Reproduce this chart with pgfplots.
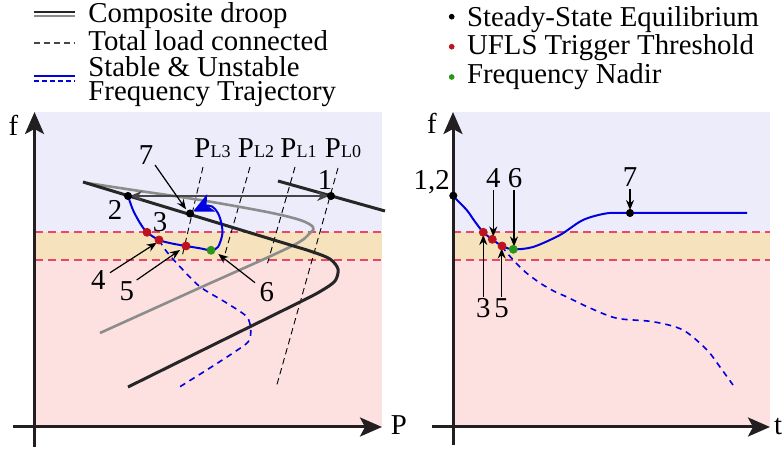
\documentclass[border=0pt]{standalone}
\usepackage{pgfplots}
\pgfplotsset{compat=1.18}
\usepackage{fontspec}
\setmainfont{Liberation Serif}
\usetikzlibrary{arrows.meta}

\definecolor{bgblue}{RGB}{236,236,251}
\definecolor{bgyellow}{RGB}{247,226,190}
\definecolor{bgpink}{RGB}{253,225,225}
\definecolor{bandred}{RGB}{234,70,108}
\definecolor{ptred}{RGB}{190,18,30}
\definecolor{ptgreen}{RGB}{45,150,25}
\definecolor{droopgray}{RGB}{140,140,140}
\definecolor{arrgray}{RGB}{70,70,70}
\definecolor{trajblue}{RGB}{0,0,225}
\definecolor{axcol}{RGB}{35,31,32}

\tikzset{
  axarrow/.style={axcol, line width=1.5pt, -{Stealth[length=11pt,width=9.5pt,inset=2.5pt]}},
  callout/.style={black, line width=0.6pt, -{Stealth[length=5pt,width=4pt]}},
  loadline/.style={black, line width=0.45pt, dash pattern=on 3.2pt off 2pt},
  band/.style={bandred, line width=0.8pt, dash pattern=on 4pt off 2.5pt},
  eqpt/.style={only marks, mark=*, mark size=1.8pt, black},
  uflspt/.style={only marks, mark=*, mark size=2pt, ptred},
  nadirpt/.style={only marks, mark=*, mark size=2pt, ptgreen},
  pl/.style={inner sep=0pt},
}
\newcommand{\PL}[1]{P{\fontsize{9}{9}\selectfont L#1}}

\begin{document}
\begin{tikzpicture}[font=\fontsize{14.4}{17}\selectfont]
\begin{axis}[
  at={(0,0)}, anchor=south west,
  width=392pt, height=224.5pt, scale only axis,
  xmin=0, xmax=784, ymin=0, ymax=449, y dir=reverse,
  hide axis, clip=false,
]
% ---------- shaded frequency regions: P-f plane ----------
\addplot[fill=bgblue, draw=none] coordinates {(35,112)(382,112)(382,232)(35,232)} -- cycle;
\addplot[fill=bgyellow, draw=none] coordinates {(35,232)(382,232)(382,260)(35,260)} -- cycle;
\addplot[fill=bgpink, draw=none] coordinates {(35,260)(382,260)(382,427)(35,427)} -- cycle;
% ---------- shaded frequency regions: time domain ----------
\addplot[fill=bgblue, draw=none] coordinates {(453,112)(770,112)(770,232)(453,232)} -- cycle;
\addplot[fill=bgyellow, draw=none] coordinates {(453,232)(770,232)(770,260)(453,260)} -- cycle;
\addplot[fill=bgpink, draw=none] coordinates {(453,260)(770,260)(770,427)(453,427)} -- cycle;

% UFLS band limits
\addplot[band] coordinates {(35,232)(382,232)};
\addplot[band] coordinates {(35,260)(382,260)};
\addplot[band] coordinates {(453,232)(770,232)};
\addplot[band] coordinates {(453,260)(770,260)};

% ---------- total load connected ----------
\addplot[loadline] coordinates {(203,167)(182,257)};
\addplot[loadline] coordinates {(250,167)(225,254)};
\addplot[loadline] coordinates {(295,167)(267,265)};
\addplot[loadline] coordinates {(338,168)(276,388)};
\node[pl] at (axis cs:212.5,148) {\PL{3}};
\node[pl] at (axis cs:256,148) {\PL{2}};
\node[pl] at (axis cs:298.5,148) {\PL{1}};
\node[pl] at (axis cs:343,148) {\PL{0}};

% ---------- composite droop curves ----------
\addplot[droopgray, line width=1.3pt, smooth, tension=0.55] coordinates {
  (87,183)(133,190)(200,200)(267,212)(300,220)(313,227)(310,233)(290,247)(195,290)(100,333)};
\addplot[black!85, line width=1.5pt, smooth, tension=0.5] coordinates {
  (83,182)(190,214.5)(290,244.9)(313,252)(330,259)(338,269)(335,281)(321,291)(300,302)(214,344.5)(128,387)};
\addplot[black!85, line width=1.5pt] coordinates {(278,181)(385,211)};

% two-headed shift between equilibria 1 and 2
\addplot[arrgray, line width=1pt, {Stealth[length=6pt,width=5pt]}-{Stealth[length=6pt,width=5pt]}]
  coordinates {(130,196)(329,196)};

% ---------- frequency trajectories in the P-f plane ----------
\addplot[trajblue, line width=0.8pt, dash pattern=on 3pt off 2.5pt, smooth, tension=0.5] coordinates {
  (159,240)(166.7,251.7)(180,266.7)(200,286.7)(226.7,303)(246.7,316.7)(250.7,330)(248.3,341.7)(233,353)(206.7,370)(180,386.7)};
\addplot[trajblue, line width=1pt, smooth, tension=0.5, -{Stealth[length=10pt,width=9.5pt,inset=2.5pt]}] coordinates {
  (128,196)(133,210)(140,223)(147,232.3)(159,240)(172,243.5)(186,246)(200,248.3)(211,250.3)(218,247)(222.5,233)(220,218)(215,209)(208,205.5)(193,211.5)};

% operating points
\addplot[eqpt] coordinates {(128,196)(331,196)(190,213.5)};
\addplot[uflspt] coordinates {(147,232.3)(159,240)(186,246)};
\addplot[nadirpt] coordinates {(211,250.3)};

% callouts
\node at (axis cs:325,180) {1};
\node at (axis cs:115,210) {2};
\node at (axis cs:160,221.7) {3};
\node at (axis cs:146,155) {7};
\node at (axis cs:98.3,280) {4};
\node at (axis cs:126.7,291.7) {5};
\node at (axis cs:266.7,291.7) {6};
\addplot[callout] coordinates {(155,165)(186,209.3)};
\addplot[callout] coordinates {(110,272.7)(156.7,242.7)};
\addplot[callout] coordinates {(136.7,280)(180,250)};
\addplot[callout] coordinates {(255,282.7)(218.3,254)};

% axes of the P-f plane
\addplot[axarrow] coordinates {(34.5,447)(34.5,112)};
\addplot[axarrow] coordinates {(13,427)(382,427)};
\node at (axis cs:13.3,125) {f};
\node at (axis cs:399,425) {P};

% ---------- time-domain frequency response ----------
\addplot[trajblue, line width=0.8pt, dash pattern=on 3pt off 2.5pt, smooth, tension=0.5] coordinates {
  (502,246)(507,253)(523,270)(540,283)(555,291.7)(567,297)(590,308)(617,318.3)(653,321.7)(683,330)(707,350)(720,367)(733,385)};
\addplot[trajblue, line width=1pt, smooth, tension=0.5] coordinates {
  (453,196)(466.7,210)(475,221.7)(483.3,232.3)(492.3,239.3)(502,246)(513.3,249.3)(533,247)(560,235)(583,220)(607,213.3)(630,213)(660,213)(747,213)};
\addplot[eqpt] coordinates {(453.3,195.7)(630,213)};
\addplot[uflspt] coordinates {(483.3,232.3)(492.3,239.3)(502,246)};
\addplot[nadirpt] coordinates {(513.3,249.3)};

\node at (axis cs:431.7,181.7) {1,2};
\node at (axis cs:493.3,178.3) {4};
\node at (axis cs:515,178.3) {6};
\node at (axis cs:630,176.7) {7};
\node at (axis cs:483.3,308.3) {3};
\node at (axis cs:501.7,308.3) {5};
\addplot[callout] coordinates {(493.3,190)(493.3,236.5)};
\addplot[callout] coordinates {(514,190)(514,246.5)};
\addplot[callout] coordinates {(630,189)(630,210)};
\addplot[callout] coordinates {(483.3,296.7)(483.3,235)};
\addplot[callout] coordinates {(501.7,296.7)(501.7,248.5)};

% axes of the time domain
\addplot[axarrow] coordinates {(453,445)(453,112)};
\addplot[axarrow] coordinates {(432,427)(770,427)};
\node at (axis cs:432,123) {f};
\node at (axis cs:778,427) {t};

% ---------- keys ----------
\addplot[black!85, line width=1.1pt] coordinates {(34,12)(75,12)};
\addplot[droopgray, line width=1.1pt] coordinates {(34,15.8)(75,15.8)};
\addplot[arrgray, line width=0.6pt, dash pattern=on 3pt off 2pt] coordinates {(34,43)(75,43)};
\addplot[trajblue, line width=0.7pt] coordinates {(34,76)(75,76)};
\addplot[trajblue, line width=0.7pt, dash pattern=on 2.5pt off 1.5pt] coordinates {(34,81)(75,81)};
\node[anchor=base west, inner sep=0pt] at (axis cs:88,22.5) {Composite droop};
\node[anchor=base west, inner sep=0pt] at (axis cs:88,51) {Total load connected};
\node[anchor=base west, inner sep=0pt] at (axis cs:88,77) {Stable \& Unstable};
\node[anchor=base west, inner sep=0pt] at (axis cs:88,100.5) {Frequency Trajectory};

\addplot[only marks, mark=*, mark size=1.2pt, black] coordinates {(451.7,16.7)};
\addplot[only marks, mark=*, mark size=1.2pt, ptred] coordinates {(451.7,46.7)};
\addplot[only marks, mark=*, mark size=1.2pt, ptgreen] coordinates {(451.7,77)};
\node[anchor=base west, inner sep=0pt] at (axis cs:466.7,26.7) {Steady-State Equilibrium};
\node[anchor=base west, inner sep=0pt] at (axis cs:466.7,55) {UFLS Trigger Threshold};
\node[anchor=base west, inner sep=0pt] at (axis cs:466.7,84) {Frequency Nadir};

\coordinate (bbA) at (axis cs:0,449);
\coordinate (bbB) at (axis cs:784,0);
\end{axis}
\pgfresetboundingbox
\path[use as bounding box] (bbA) rectangle (bbB);
\end{tikzpicture}
\end{document}
